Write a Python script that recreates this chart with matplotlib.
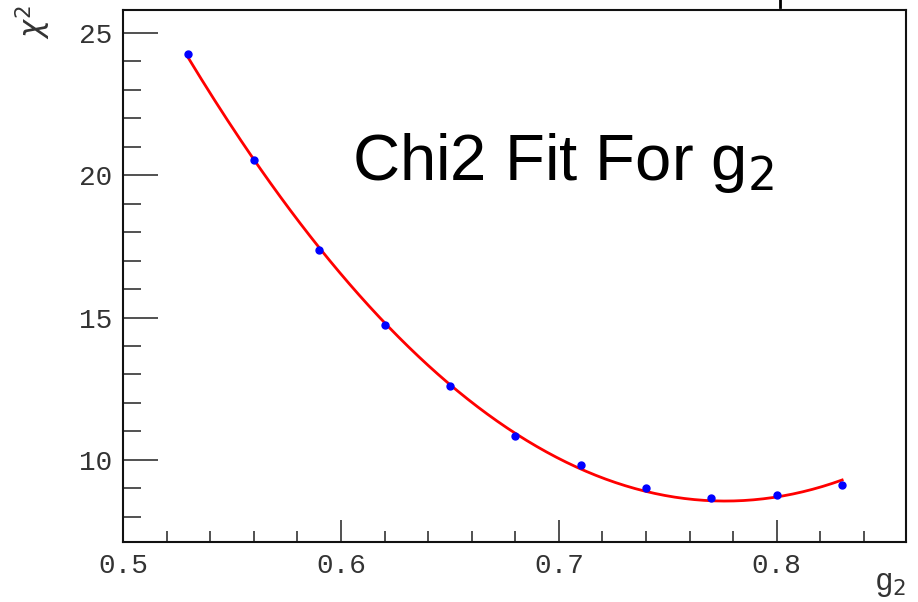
import numpy as np
import matplotlib.pyplot as plt
from matplotlib.ticker import MultipleLocator

g2 = [0.53, 0.56, 0.59, 0.62, 0.65, 0.68, 0.71, 0.74, 0.77, 0.80, 0.83]
chi2 = [24.26, 20.53, 17.37, 14.73, 12.59, 10.83, 9.81, 9.00, 8.65, 8.75, 9.13]

# quadratic fit like the ROOT pol2
coef = np.polyfit(g2, chi2, 2)
xf = np.linspace(0.53, 0.83, 200)
yf = np.polyval(coef, xf)

fig = plt.figure(figsize=(9.18, 6.02), dpi=100)
ax = fig.add_axes([123/918, 1 - 542/602, (906 - 123)/918, (542 - 10)/602])

ax.plot(xf, yf, color='red', lw=2)
ax.plot(g2, chi2, 'o', color='blue', ms=5, mec='blue')

ax.set_xlim(0.5, 0.8593)
ax.set_ylim(7.11, 25.81)

ax.xaxis.set_major_locator(MultipleLocator(0.1))
ax.xaxis.set_minor_locator(MultipleLocator(0.02))
ax.yaxis.set_major_locator(MultipleLocator(5))
ax.yaxis.set_minor_locator(MultipleLocator(1))
ax.xaxis.set_major_formatter(plt.FuncFormatter(lambda v, p: f"{v:.1f}"))
ax.yaxis.set_major_formatter(plt.FuncFormatter(lambda v, p: f"{v:.0f}"))

ax.tick_params(axis='both', which='both', direction='in', colors='#333333',
               labelcolor='#333333', top=False, right=False)
ax.tick_params(axis='y', which='major', length=25, width=1.2, pad=8)
ax.tick_params(axis='y', which='minor', length=13, width=1.2)
ax.tick_params(axis='x', which='major', length=16, width=1.2, pad=8)
ax.tick_params(axis='x', which='minor', length=8, width=1.2)
for lab in ax.get_xticklabels() + ax.get_yticklabels():
    lab.set_fontfamily('Liberation Mono')
    lab.set_fontsize(20)

for s in ax.spines.values():
    s.set_linewidth(1.5)
    s.set_color('#111111')

fig.text(352/918, 1 - 180/602, "Chi2 Fit For g$_2$", fontsize=47,
         family='Liberation Sans', ha='left', va='baseline')
fig.text(33/918, 1 - 22/602, r"$\chi^2$", fontsize=22, rotation=90,
         ha='center', va='center', color='#333333')
fig.text(890/918, 1 - 584/602, r"g$_2$", fontsize=22,
         family='Liberation Sans', ha='center', va='center', color='#333333')

# piece of the cut-off box at the top
fig.add_artist(plt.Line2D([780/918, 780/918], [1, 1 - 7/602], color='black', lw=2))

fig.savefig("out.png", dpi=100)
